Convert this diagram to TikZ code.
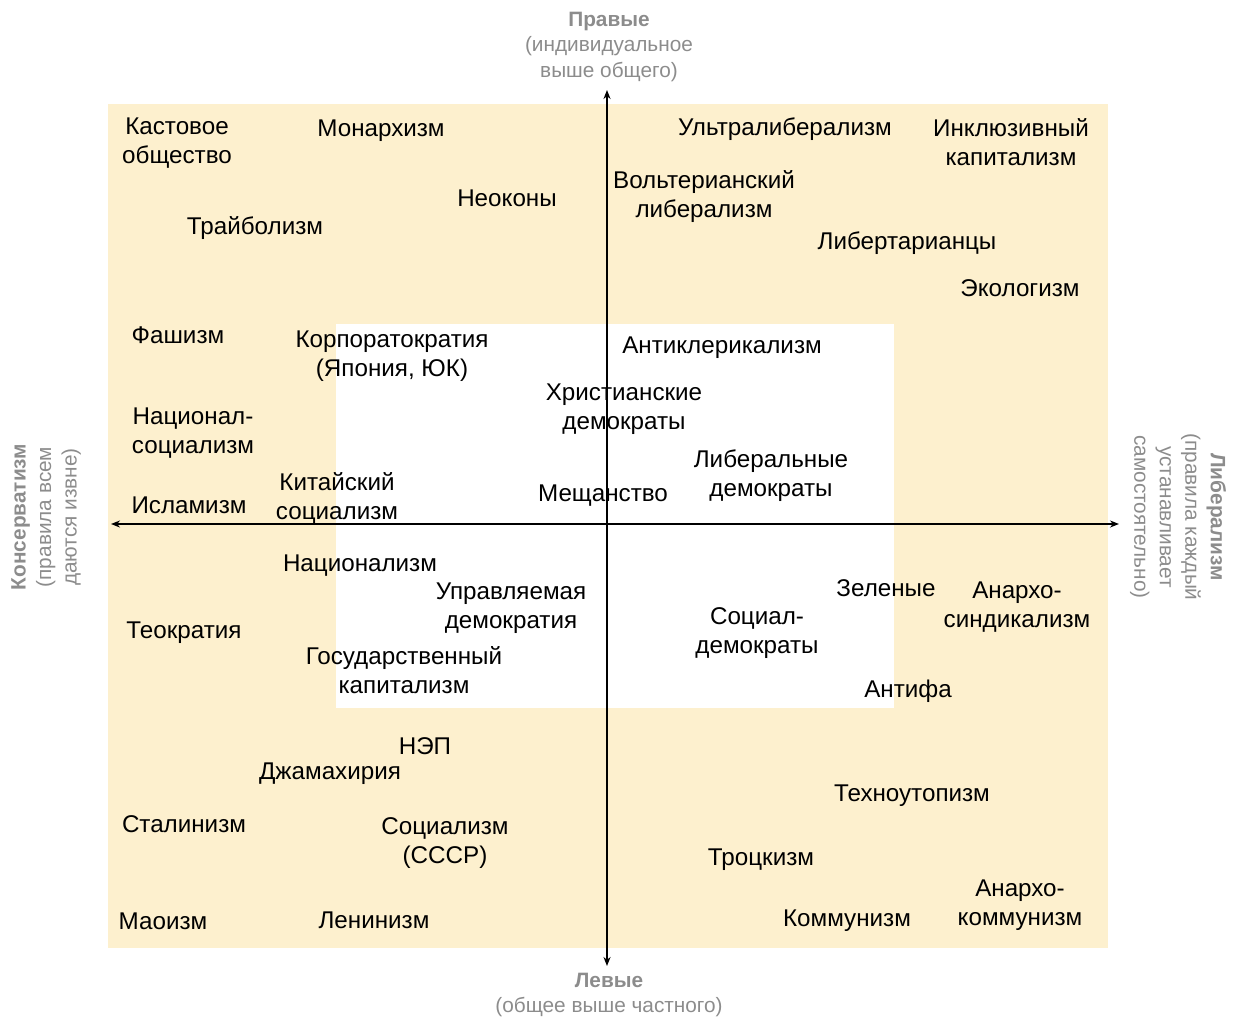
\documentclass[tikz,border=0pt]{standalone}
\usepackage{fontspec}
\setmainfont{Liberation Sans}
\usetikzlibrary{arrows.meta}
\definecolor{beige}{RGB}{253,240,206}
\definecolor{axgray}{RGB}{140,140,140}
\begin{document}
\begin{tikzpicture}[x=1pt,y=-1pt,
  lbl/.style={align=center,inner sep=0pt,yshift=-2.5pt,font=\fontsize{24.2}{29}\selectfont,text=black},
  axl/.style={align=center,inner sep=0pt,font=\fontsize{20.8}{25.5}\selectfont,text=axgray},
  axis/.style={line width=2pt,{Stealth[length=9pt,width=7pt]}-{Stealth[length=9pt,width=7pt]}}]
\useasboundingbox (0,0) rectangle (1239,1032);
\fill[beige] (108,104) rectangle (1108,948);
\fill[white] (336,324) rectangle (894,708);
\coordinate (top) at (607,90);
\coordinate (bot) at (607,966);
\coordinate (lft) at (111,524);
\coordinate (rgt) at (1119,524);
\draw[axis] (bot) -- (top);
\draw[axis] (lft) -- (rgt);
% axis labels
\node[axl] (right) at (609,47) {\textbf{Правые}\\(индивидуальное\\выше общего)};
\node[axl] (left) at (609,995) {\textbf{Левые}\\(общее выше частного)};
\node[axl,rotate=90] (cons) at (46,517) {\textbf{Консерватизм}\\(правила всем\\даются извне)};
\node[axl,rotate=-90] (lib) at (1178,517) {\textbf{Либерализм}\\(правила каждый\\устанавливает\\самостоятельно)};
% items
\node[lbl] (n1) at (177,141) {Кастовое\\общество};
\node[lbl] (n2) at (381,128) {Монархизм};
\node[lbl] (n3) at (507,196) {Неоконы};
\node[lbl] (n4) at (255,226) {Трайболизм};
\node[lbl] (n5) at (785,127) {Ультралиберализм};
\node[lbl] (n6) at (1011,140) {Инклюзивный\\капитализм};
\node[lbl] (n7) at (704,194) {Вольтерианский\\либерализм};
\node[lbl] (n8) at (907,241) {Либертарианцы};
\node[lbl] (n9) at (1020,286) {Экологизм};
\node[lbl] (n10) at (178,333) {Фашизм};
\node[lbl] (n11) at (392,354) {Корпоратократия\\(Япония, ЮК)};
\node[lbl] (n12) at (722,345) {Антиклерикализм};
\node[lbl] (n13) at (624,407) {Христианские\\демократы};
\node[lbl] (n14) at (193,431) {Национал-\\социализм};
\node[lbl] (n15) at (771,473) {Либеральные\\демократы};
\node[lbl] (n16) at (189,503) {Исламизм};
\node[lbl] (n17) at (337,496) {Китайский\\социализм};
\node[lbl] (n18) at (603,493) {Мещанство};
\node[lbl] (n19) at (360,563) {Национализм};
\node[lbl] (n20) at (511,606) {Управляемая\\демократия};
\node[lbl] (n21) at (886,586) {Зеленые};
\node[lbl] (n22) at (1017,605) {Анархо-\\синдикализм};
\node[lbl] (n23) at (184,630) {Теократия};
\node[lbl] (n24) at (757,631) {Социал-\\демократы};
\node[lbl] (n25) at (404,668) {Государственный\\капитализм};
\node[lbl] (n26) at (908,689) {Антифа};
\node[lbl] (n27) at (425,744) {НЭП};
\node[lbl] (n28) at (330,771) {Джамахирия};
\node[lbl] (n29) at (912,793) {Техноутопизм};
\node[lbl] (n30) at (184,822) {Сталинизм};
\node[lbl] (n31) at (445,841) {Социализм\\(СССР)};
\node[lbl] (n32) at (761,857) {Троцкизм};
\node[lbl] (n33) at (1020,903) {Анархо-\\коммунизм};
\node[lbl] (n34) at (163,919) {Маоизм};
\node[lbl] (n35) at (374,918) {Ленинизм};
\node[lbl] (n36) at (847,918) {Коммунизм};
\end{tikzpicture}
\end{document}
